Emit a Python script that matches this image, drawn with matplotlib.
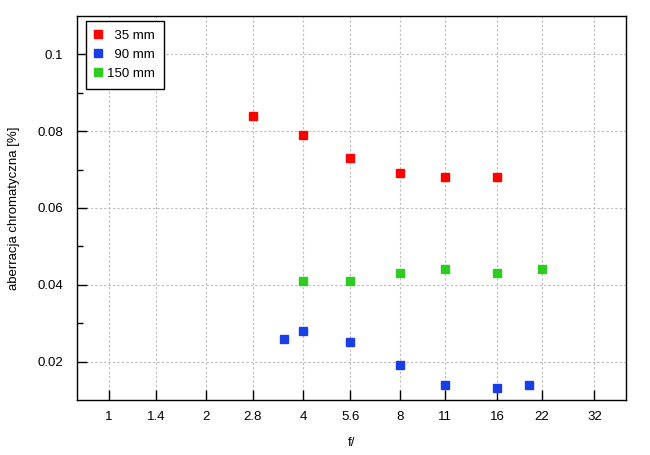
import numpy as np
import matplotlib.pyplot as plt
from matplotlib.ticker import FixedLocator, NullFormatter

plt.rcParams['font.family'] = ['Liberation Sans', 'DejaVu Sans']

# przeslony i aberracja chromatyczna [%]
f_35 = [2.8, 4, 5.6, 8, 11, 16]
ca_35 = [0.084, 0.079, 0.073, 0.069, 0.068, 0.068]

f_90 = [3.5, 4, 5.6, 8, 11, 16, 20]
ca_90 = [0.026, 0.028, 0.025, 0.019, 0.014, 0.013, 0.014]

f_150 = [4, 5.6, 8, 11, 16, 22]
ca_150 = [0.041, 0.041, 0.043, 0.044, 0.043, 0.044]

x_ticks = [1, 1.4, 2, 2.8, 4, 5.6, 8, 11, 16, 22, 32]
x_labels = ['1', '1.4', '2', '2.8', '4', '5.6', '8', '11', '16', '22', '32']
y_ticks = [0.02, 0.04, 0.06, 0.08, 0.1]
y_labels = ['0.02', '0.04', '0.06', '0.08', '0.1']

fig = plt.figure(figsize=(6.5, 4.55), dpi=100)
ax = fig.add_axes([0.119, 0.121, 0.8437, 0.8438])

ax.plot(f_35, ca_35, 's', color='#ff0000', markersize=5.5, label='\u200735 mm')
ax.plot(f_90, ca_90, 's', color='#1a3ee6', markersize=5.5, label='\u200790 mm')
ax.plot(f_150, ca_150, 's', color='#2ccc20', markersize=5.5, label='150 mm')

ax.set_xscale('log')
ax.set_xlim(0.8, 40)
ax.set_ylim(0.01, 0.11)
ax.xaxis.set_major_locator(FixedLocator(x_ticks))
ax.xaxis.set_minor_locator(FixedLocator([]))
ax.xaxis.set_minor_formatter(NullFormatter())
ax.set_xticklabels(x_labels)
ax.set_yticks(y_ticks)
ax.set_yticklabels(y_labels)
ax.yaxis.set_minor_locator(FixedLocator([0.03, 0.05, 0.07, 0.09]))

ax.tick_params(which='major', direction='in', length=7, width=1, labelsize=9.5, pad=8)
ax.tick_params(axis='y', which='minor', direction='in', length=4, width=1)
ax.tick_params(axis='y', which='major', pad=10)

ax.grid(True, which='major', color='#bbbbbb', linestyle=(0, (2, 2)), linewidth=0.8)
for s in ax.spines.values():
    s.set_linewidth(1)

ax.set_xlabel('f/', fontsize=9.5, labelpad=10)
ax.set_ylabel('aberracja chromatyczna [%]', fontsize=9.5, labelpad=13)

leg = ax.legend(loc='upper left', bbox_to_anchor=(0.015, 0.988), borderaxespad=0,
                fontsize=9.5, fancybox=False, edgecolor='black', framealpha=1,
                handlelength=0.5, handletextpad=0.4, labelspacing=0.5,
                borderpad=0.7)
leg.get_frame().set_linewidth(1)

fig.savefig('out.png', dpi=100)
